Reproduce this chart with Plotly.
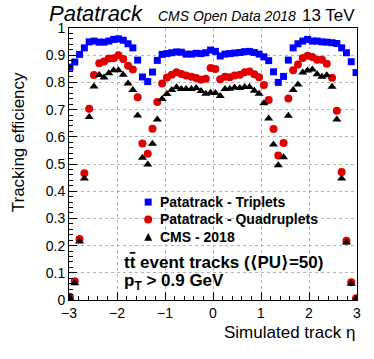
import plotly.graph_objects as go

# pseudorapidity bin centres
eta = [-2.98, -2.88, -2.78, -2.68, -2.58, -2.48, -2.37, -2.27, -2.17, -2.07,
       -1.97, -1.87, -1.77, -1.67, -1.57, -1.47, -1.36, -1.26, -1.16, -1.06,
       -0.96, -0.86, -0.76, -0.66, -0.56, -0.45, -0.35, -0.25, -0.15, -0.05,
       0.05, 0.15, 0.25, 0.35, 0.45, 0.56, 0.66, 0.76, 0.86, 0.96,
       1.06, 1.16, 1.26, 1.36, 1.47, 1.57, 1.67, 1.77, 1.87, 1.97,
       2.07, 2.17, 2.27, 2.37, 2.48, 2.58, 2.68, 2.78, 2.88, 2.98]

# Patatrack - Triplets
eff_triplets = [0.856, 0.875, 0.903, 0.927, 0.949, 0.952, 0.948, 0.948, 0.952, 0.958,
                0.960, 0.955, 0.942, 0.927, 0.882, 0.820, 0.803, 0.838, 0.881, 0.903,
                0.906, 0.909, 0.912, 0.911, 0.904, 0.904, 0.907, 0.906, 0.909, 0.919,
                0.914, 0.897, 0.904, 0.906, 0.908, 0.910, 0.913, 0.914, 0.910, 0.904,
                0.894, 0.880, 0.839, 0.800, 0.822, 0.882, 0.927, 0.942, 0.952, 0.958,
                0.952, 0.952, 0.949, 0.948, 0.946, 0.943, 0.927, 0.909, 0.876, 0.836]

# Patatrack - Quadruplets
eff_quadruplets = [0.012, 0.069, 0.224, 0.466, 0.703, 0.827, 0.870, 0.877, 0.888, 0.889,
                   0.900, 0.886, 0.861, 0.847, 0.745, 0.575, 0.538, 0.630, 0.728, 0.796,
                   0.818, 0.828, 0.837, 0.831, 0.825, 0.821, 0.816, 0.810, 0.813, 0.853,
                   0.849, 0.812, 0.821, 0.819, 0.825, 0.828, 0.837, 0.840, 0.830, 0.819,
                   0.790, 0.735, 0.629, 0.531, 0.577, 0.741, 0.845, 0.866, 0.890, 0.898,
                   0.893, 0.883, 0.883, 0.869, 0.817, 0.696, 0.471, 0.218, 0.065, 0.006]

# CMS - 2018
eff_cms = [0.006, 0.062, 0.215, 0.447, 0.673, 0.785, 0.827, 0.818, 0.834, 0.845,
           0.845, 0.828, 0.796, 0.772, 0.678, 0.523, 0.498, 0.574, 0.664, 0.739,
           0.757, 0.772, 0.782, 0.776, 0.776, 0.776, 0.779, 0.768, 0.758, 0.762,
           0.761, 0.750, 0.776, 0.777, 0.781, 0.779, 0.783, 0.783, 0.769, 0.758,
           0.723, 0.667, 0.572, 0.495, 0.525, 0.677, 0.772, 0.792, 0.836, 0.844,
           0.847, 0.830, 0.821, 0.826, 0.784, 0.664, 0.447, 0.211, 0.060, 0.004]

series_names = ["Patatrack - Triplets", "Patatrack - Quadruplets", "CMS - 2018"]
series_colors = ["#0000ff", "#e00000", "#000000"]
series_symbols = ["square", "circle", "triangle-up"]

FONT = "Liberation Sans, Arial, Helvetica, sans-serif"
PLOT_W, PLOT_H = 288, 272  # plot area in pixels

fig = go.Figure()
for name, ys, col, sym in zip(series_names, [eff_triplets, eff_quadruplets, eff_cms],
                              series_colors, series_symbols):
    fig.add_trace(go.Scatter(x=eta, y=ys, mode="markers", name=name, showlegend=False,
                             marker=dict(symbol=sym, size=7 if sym == "square" else 8, color=col)))

axis_common = dict(
    showline=True, linecolor="black", linewidth=1, mirror=True,
    ticks="inside", ticklen=8, tickcolor="black",
    showgrid=True, gridcolor="#b4b4b4", griddash="dot", gridwidth=1,
    zeroline=False, tickfont=dict(family=FONT, size=14, color="black"),
)

fig.update_xaxes(range=[-3, 3], dtick=1, tick0=-3,
                 minor=dict(dtick=0.2, ticks="inside", ticklen=4, tickcolor="black", showgrid=False),
                 **axis_common)
fig.update_yaxes(range=[0, 1], dtick=0.1, tick0=0,
                 minor=dict(dtick=0.02, ticks="inside", ticklen=4, tickcolor="black", showgrid=False),
                 **axis_common)

annotations = [
    dict(text="<i>Patatrack</i>", x=-0.075, y=1.053, xanchor="left", yanchor="middle",
         font=dict(family=FONT, size=22, color="black")),
    dict(text="<i>CMS Open Data 2018</i>", x=0.302, y=1.043, xanchor="left", yanchor="middle",
         font=dict(family=FONT, size=14, color="black")),
    dict(text="13 TeV", x=1.0, y=1.047, xanchor="right", yanchor="middle",
         font=dict(family=FONT, size=17, color="black")),
    dict(text="Tracking efficiency", x=-0.177, y=0.58, textangle=-90, xanchor="center",
         yanchor="middle", font=dict(family=FONT, size=17, color="black")),
    dict(text="Simulated track η", x=1.0, y=-0.121, xanchor="right", yanchor="middle",
         font=dict(family=FONT, size=17, color="black")),
    dict(text="<b>t<span style='text-decoration:overline'>t</span> event tracks ("
              "<span style='font-family:DejaVu Sans'>\u27e8</span>PU"
              "<span style='font-family:DejaVu Sans'>\u27e9</span>=50)</b>",
         x=0.184, y=0.14, xanchor="left", yanchor="middle",
         font=dict(family=FONT, size=17, color="black")),
    dict(text="<b>p<sub>T</sub> > 0.9 GeV</b>", x=0.184, y=0.065,
         xanchor="left", yanchor="middle", font=dict(family=FONT, size=17, color="black")),
]

# hand-placed legend (ROOT TLegend style, tight rows)
shapes = []
leg_x, leg_text_x = 0.275, 0.309
leg_rows = [0.36, 0.296, 0.232]
for name, col, sym, yy in zip(series_names, series_colors, series_symbols, leg_rows):
    annotations.append(dict(text=f"<b>{name}</b>", x=leg_text_x, y=yy, xanchor="left",
                            yanchor="middle", font=dict(family=FONT, size=14, color="black")))
    if sym == "square":
        dx, dy = 3.5 / PLOT_W, 3.5 / PLOT_H
        shapes.append(dict(type="rect", x0=leg_x - dx, x1=leg_x + dx, y0=yy - dy, y1=yy + dy,
                           fillcolor=col, line=dict(width=0)))
    elif sym == "circle":
        dx, dy = 4 / PLOT_W, 4 / PLOT_H
        shapes.append(dict(type="circle", x0=leg_x - dx, x1=leg_x + dx, y0=yy - dy, y1=yy + dy,
                           fillcolor=col, line=dict(width=0)))
    else:
        dx, dy = 4 / PLOT_W, 3.8 / PLOT_H
        path = (f"M {leg_x - dx},{yy - dy} L {leg_x + dx},{yy - dy} "
                f"L {leg_x},{yy + dy} Z")
        shapes.append(dict(type="path", path=path, fillcolor=col, line=dict(width=0)))
for s in shapes:
    s.update(xref="paper", yref="paper")

for a in annotations:
    a.update(xref="paper", yref="paper", showarrow=False)

fig.update_layout(
    width=374, height=359,
    margin=dict(l=69, r=17, t=28, b=59),
    paper_bgcolor="white", plot_bgcolor="white",
    showlegend=False,
    hovermode=False,
    annotations=annotations,
    shapes=shapes,
)

# drop the browser's default 8px body margin so the figure sits at the page corner
fig.write_html("out.html", config={"displayModeBar": False},
               post_script="document.body.style.margin='0';")
